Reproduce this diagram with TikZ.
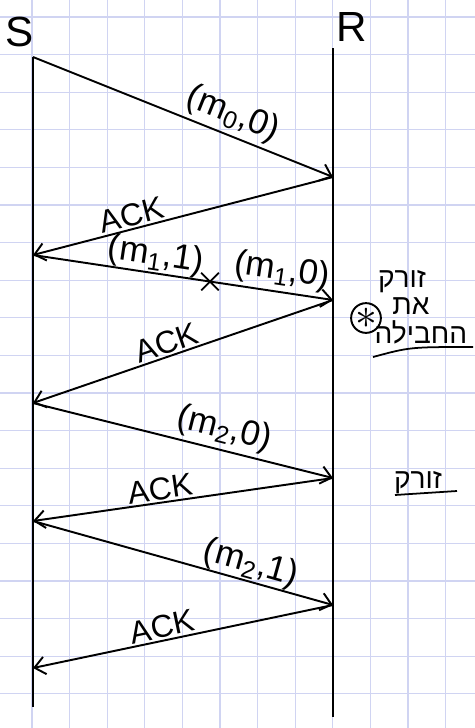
\documentclass[tikz,border=0pt]{standalone}
\usepackage{fontspec}
\setmainfont{Liberation Sans}
\newfontfamily\hebfont[Script=Hebrew]{Liberation Sans}
\TeXXeTstate=1
\usetikzlibrary{arrows.meta, shapes.misc}
\definecolor{gridblue}{RGB}{208,212,242}

\begin{document}
\begin{tikzpicture}[x=0.02cm, y=-0.02cm, >={Straight Barb[length=6pt, width=10pt]},
  lifeline/.style={line width=1.2pt},
  msg/.style={->, line width=1.1pt},
  lbl/.style={sloped, above, inner sep=2pt, font=\fontsize{20}{24}\selectfont},
  ack/.style={sloped, above, inner sep=1pt, font=\fontsize{18}{21}\selectfont},
  party/.style={font=\fontsize{24}{28}\selectfont},
  note/.style={font=\hebfont\fontsize{16}{19}\selectfont, inner sep=0pt}]
  \useasboundingbox (0,0) rectangle (475,728);
  % squared paper
  \foreach \x in {0,...,11}
    \draw[gridblue, line width=0.6pt] ({32+37.6*\x},0) -- ({32+37.6*\x},728);
  \foreach \y in {0,...,18}
    \draw[gridblue, line width=0.6pt] (0,{17+37.6*\y}) -- (475,{17+37.6*\y});

  % sender and receiver
  \node[party] (S) at (20,32) {S};
  \node[party] (R) at (352,27) {R};
  \coordinate (stop) at (33,57);
  \coordinate (sbot) at (33,707);
  \coordinate (rtop) at (333,48);
  \coordinate (rbot) at (333,717);
  \draw[lifeline] (stop) -- (sbot);
  \draw[lifeline] (rtop) -- (rbot);

  % send / receive instants
  \coordinate (s0) at (33,57);
  \coordinate (s1) at (33,255);
  \coordinate (s2) at (33,403);
  \coordinate (s3) at (33,521);
  \coordinate (s4) at (33,668);
  \coordinate (r0) at (333,177);
  \coordinate (r1) at (333,300);
  \coordinate (r2) at (333,478);
  \coordinate (r3) at (333,605);

  \draw[msg] (s0) -- node[lbl, pos=0.64] (m0) {(m\textsubscript{0},0)} (r0);
  \draw[msg] (r0) -- node[ack, pos=0.66] (ack0) {ACK} (s1);
  \draw[msg] (s1) -- node[lbl, pos=0.40, inner sep=0pt] (m1) {(m\textsubscript{1},1)}
    node[pos=0.59, cross out, draw, line width=1pt, minimum size=9pt, inner sep=0pt] (flip) {}
    node[lbl, pos=0.82] (m1b) {(m\textsubscript{1},0)} (r1);
  \draw[msg] (r1) -- node[ack, pos=0.54] (ack1) {ACK} (s2);
  \draw[msg] (s2) -- node[lbl, pos=0.62] (m2) {(m\textsubscript{2},0)} (r2);
  \draw[msg] (r2) -- node[ack, pos=0.57] (ack2) {ACK} (s3);
  \draw[msg] (s3) -- node[lbl, pos=0.71, inner sep=0pt] (m2b) {(m\textsubscript{2},1)} (r3);
  \draw[msg] (r3) -- node[ack, pos=0.56] (ack3) {ACK} (s4);

  % receiver drops the duplicate
  \node[circle, draw, line width=1.1pt, minimum size=15pt, inner sep=0pt,
    font=\fontsize{24}{24}\selectfont] (dup) at (366,318) {$\ast$};
  \node[note] (drop) at (402,282) {\beginR זורק\endR};
  \node[note] (the) at (411,306) {\beginR את\endR};
  \node[note] (pkt) at (421,332) {\beginR החבילה\endR};
  \draw[line width=1pt] (373,357) .. controls (410,347) .. (473,347);

  \node[note] (drop2) at (418,483) {\beginR זורק\endR};
  \draw[line width=1pt] (395,495) -- (457,491);
\end{tikzpicture}
\end{document}
